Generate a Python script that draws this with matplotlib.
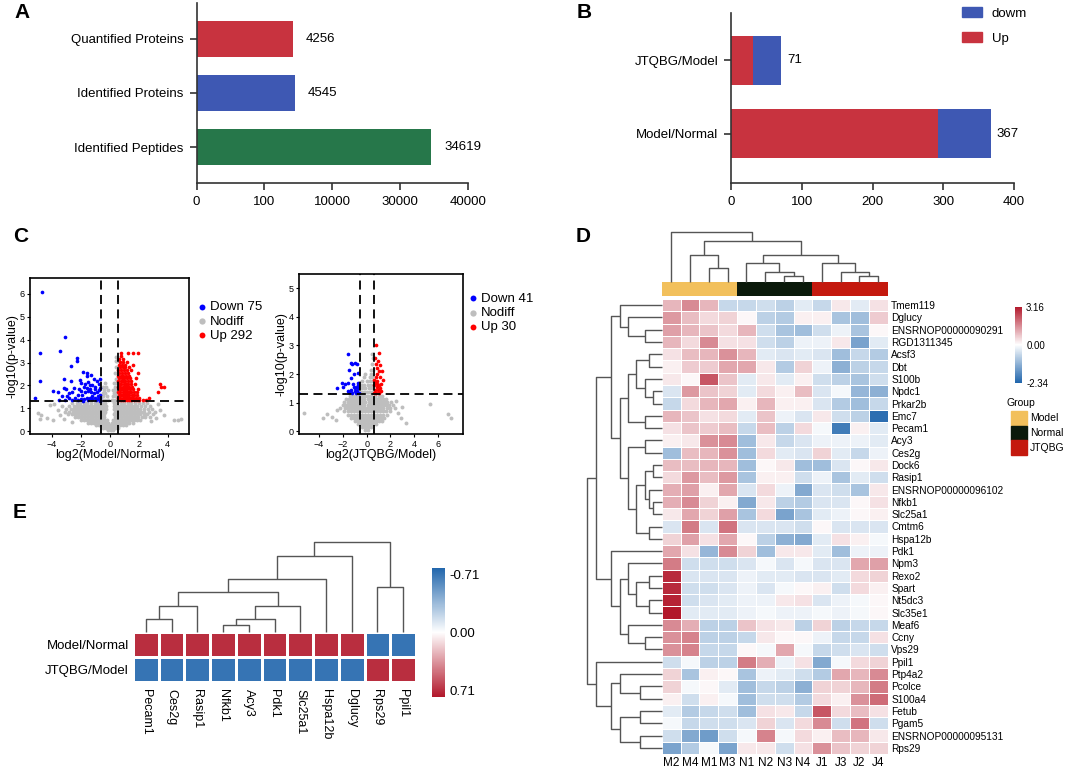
import numpy as np
import matplotlib
matplotlib.use('Agg')
import matplotlib.pyplot as plt
from matplotlib.colors import LinearSegmentedColormap, ListedColormap, TwoSlopeNorm, Normalize
from matplotlib.cm import ScalarMappable
from matplotlib.patches import Patch, Rectangle

plt.rcParams['font.family'] = ['Liberation Sans', 'DejaVu Sans']

# ---------------- data ----------------
a_labels = ['Quantified Proteins', 'Identified Proteins', 'Identified Peptides']
a_values = [4256, 4545, 34619]
a_colors = ['#C8333F', '#3E58B3', '#26774A']
a_ticks = [0, 100, 10000, 30000, 40000]

b_labels = ['JTQBG/Model', 'Model/Normal']
b_up = [30, 292]
b_down = [41, 75]
b_ticks = [0, 100, 200, 300, 400]

# volcano 1: log2(Model/Normal)
c1_gray_rows = {
    0.04: [-0.15, 0.05, 0.2],
    0.14: [-0.45, -0.25, -0.05, 0.15, 0.35, 0.55],
    0.26: [-0.95, -0.75, -0.55, -0.35, -0.15, 0.1, 0.3, 0.5, 0.7, 0.9, 1.15],
    0.38: [-1.5, -1.3, -1.1, -0.9, -0.7, -0.5, -0.3, -0.1, 0.15, 0.35, 0.55, 0.75, 0.95, 1.15, 1.35, 1.6],
    0.5: [-2.0, -1.8, -1.6, -1.4, -1.2, -1.0, -0.8, -0.6, -0.4, -0.2, 0.25, 0.45, 0.65, 0.85, 1.05,
          1.25, 1.45, 1.65, 1.85, 2.1],
    0.62: [-2.4, -2.2, -2.0, -1.8, -1.6, -1.4, -1.2, -1.0, -0.8, -0.6, -0.4, 0.35, 0.55, 0.75, 0.95,
           1.15, 1.35, 1.55, 1.75, 1.95, 2.2, 2.45, 2.8],
    0.74: [-2.9, -2.6, -2.4, -2.2, -2.0, -1.8, -1.6, -1.4, -1.2, -1.0, -0.8, -0.6, -0.4, 0.3, 0.5,
           0.7, 0.9, 1.1, 1.3, 1.5, 1.7, 1.9, 2.1, 2.35, 2.6, 3.0],
    0.86: [-3.1, -2.8, -2.55, -2.35, -2.15, -1.95, -1.75, -1.55, -1.35, -1.15, -0.95, -0.75, -0.55,
           -0.35, 0.35, 0.55, 0.75, 0.95, 1.15, 1.35, 1.55, 1.75, 1.95, 2.15, 2.4, 2.7, 3.1],
    0.98: [-3.0, -2.7, -2.45, -2.25, -2.05, -1.85, -1.65, -1.45, -1.25, -1.05, -0.85, -0.65, -0.45,
           -0.25, 0.3, 0.5, 0.7, 0.9, 1.1, 1.3, 1.5, 1.7, 1.9, 2.1, 2.35, 2.65, 2.95],
    1.1: [-2.8, -2.5, -2.25, -2.05, -1.85, -1.65, -1.45, -1.25, -1.05, -0.85, -0.65, -0.45, -0.25,
          0.3, 0.5, 0.7, 0.9, 1.1, 1.3, 1.5, 1.7, 1.9, 2.15, 2.45, 2.8],
    1.22: [-2.6, -2.3, -2.05, -1.8, -1.55, -1.3, -1.05, -0.8, -0.55, -0.35, 0.3, 0.5, 0.75, 1.0,
           1.25, 1.5, 1.75, 2.0, 2.3, 2.6],
    1.38: [-0.5, -0.3, -0.1, 0.15, 0.35, 0.5],
    1.52: [-0.45, -0.2, 0.2, 0.4],
    1.66: [-0.5, -0.3, 0.3, 0.5],
    1.8: [-0.4, -0.15, 0.25, 0.45],
    1.95: [-0.5, -0.25, 0.35, 0.5],
    2.1: [-0.35, 0.3, 0.45],
    2.3: [0.4, 0.5],
    2.55: [0.35, 0.5],
    2.8: [0.45],
    3.05: [0.4, 0.5],
    3.25: [0.45],
}
c1_gray_extra = [(-5.0, 0.8), (-4.75, 0.72), (-4.85, 0.55), (-4.35, 0.6), (-3.95, 0.5), (-3.6, 0.95),
                 (-3.85, 1.2), (-4.15, 1.15), (-3.45, 0.72), (-3.3, 1.1), (3.45, 0.95), (3.3, 1.2),
                 (3.75, 0.72), (4.45, 0.5), (4.75, 0.48), (4.95, 0.55), (3.2, 0.6), (2.85, 0.45),
                 (-2.6, 0.4), (-3.2, 0.55)]
c1_down = [(-4.7, 6.1), (-3.1, 4.1), (-4.8, 3.4), (-3.45, 3.5), (-4.8, 2.2), (-5.15, 1.45), (-3.9, 1.75),
           (-3.6, 1.7), (-3.2, 1.9), (-3.0, 1.85), (-3.3, 1.55), (-2.95, 1.55), (-3.2, 2.3), (-2.7, 2.85),
           (-2.3, 3.05), (-2.3, 3.2), (-2.7, 2.2), (-2.5, 1.9), (-2.6, 1.7), (-2.8, 1.45), (-2.4, 1.45),
           (-2.2, 1.6), (-2.0, 1.75), (-1.85, 2.6), (-1.6, 2.4), (-1.5, 2.15), (-1.3, 2.45), (-1.1, 2.3),
           (-0.9, 2.2), (-0.75, 2.05), (-0.65, 1.9), (-1.0, 1.95), (-1.2, 2.0), (-1.4, 2.0), (-1.6, 1.9),
           (-1.8, 1.95), (-2.0, 2.1), (-1.9, 1.6), (-1.7, 1.7), (-1.5, 1.75), (-1.3, 1.7), (-1.1, 1.65),
           (-0.9, 1.7), (-0.7, 1.6), (-0.65, 1.45), (-0.8, 1.4), (-1.0, 1.45), (-1.2, 1.4), (-1.4, 1.45),
           (-1.6, 1.45), (-1.8, 1.4), (-2.0, 1.4), (-2.2, 1.35), (-2.6, 1.35), (-3.5, 1.35), (-3.1, 1.38),
           (-1.5, 1.35), (-0.95, 1.35), (-0.7, 1.33), (-1.25, 1.55), (-0.85, 1.55), (-1.7, 2.05),
           (-1.35, 1.85), (-1.05, 1.85), (-0.75, 1.8), (-2.15, 1.85), (-2.8, 1.65), (-0.7, 2.3),
           (-1.55, 2.55), (-2.05, 2.25), (-1.85, 1.32)]
c1_up_rows = {
    1.35: [0.62, 0.78, 0.92, 1.06, 1.2, 1.35, 1.5, 1.66, 1.85, 2.05, 2.28, 2.5],
    1.47: [0.6, 0.74, 0.88, 1.02, 1.16, 1.3, 1.45, 1.62, 1.8, 2.0, 2.7],
    1.59: [0.64, 0.78, 0.92, 1.06, 1.2, 1.36, 1.52, 1.7, 1.9],
    1.71: [0.6, 0.74, 0.88, 1.02, 1.16, 1.3, 1.46, 1.64, 1.85, 3.3],
    1.83: [0.64, 0.78, 0.92, 1.06, 1.22, 1.4, 1.6, 1.95],
    1.95: [0.6, 0.74, 0.88, 1.02, 1.18, 1.34, 1.55, 3.55, 3.75],
    2.07: [0.64, 0.8, 0.95, 1.1, 1.28, 1.48, 1.75, 3.45],
    2.19: [0.6, 0.76, 0.92, 1.08, 1.26, 1.5],
    2.31: [0.66, 0.82, 0.98, 1.16, 1.4, 1.8],
    2.43: [0.6, 0.76, 0.94, 1.12, 1.32],
    2.55: [0.66, 0.84, 1.02, 1.24, 1.95],
    2.67: [0.6, 0.8, 0.98, 1.2, 1.45],
    2.79: [0.68, 0.88, 1.08, 1.3],
    2.91: [0.62, 0.82, 1.02, 1.6],
    3.03: [0.7, 0.92, 1.2],
    3.15: [0.65, 0.88],
    3.27: [0.75],
    3.4: [0.8, 1.25, 1.6, 1.95],
}

# volcano 2: log2(JTQBG/Model)
c2_gray_rows = {
    0.04: [-0.1, 0.1],
    0.14: [-0.35, -0.1, 0.15, 0.4],
    0.25: [-0.7, -0.45, -0.2, 0.05, 0.3, 0.55, 0.8],
    0.36: [-1.0, -0.75, -0.5, -0.25, 0.0, 0.25, 0.5, 0.75, 1.0, 1.25],
    0.47: [-1.3, -1.05, -0.8, -0.55, -0.3, -0.05, 0.2, 0.45, 0.7, 0.95, 1.2, 1.45],
    0.58: [-1.6, -1.35, -1.1, -0.85, -0.6, -0.35, -0.1, 0.15, 0.4, 0.65, 0.9, 1.15, 1.4, 1.7],
    0.69: [-1.9, -1.6, -1.35, -1.1, -0.85, -0.6, -0.35, -0.1, 0.15, 0.4, 0.65, 0.9, 1.15, 1.4, 1.65, 2.0],
    0.8: [-2.2, -1.85, -1.6, -1.35, -1.1, -0.85, -0.6, -0.35, -0.1, 0.15, 0.4, 0.65, 0.9, 1.15, 1.4,
          1.7, 2.0, 2.4],
    0.91: [-2.0, -1.7, -1.45, -1.2, -0.95, -0.7, -0.45, -0.2, 0.1, 0.35, 0.6, 0.85, 1.1, 1.35, 1.6,
           1.9, 2.2],
    1.02: [-1.9, -1.6, -1.35, -1.1, -0.85, -0.6, -0.35, -0.1, 0.2, 0.45, 0.7, 0.95, 1.2, 1.45, 1.75, 2.05],
    1.13: [-1.7, -1.45, -1.2, -0.95, -0.7, -0.45, -0.2, 0.1, 0.35, 0.6, 0.85, 1.1, 1.35, 1.6],
    1.24: [-1.4, -1.15, -0.9, -0.65, -0.4, -0.15, 0.15, 0.4, 0.7, 1.0, 1.3],
    1.38: [-0.5, -0.25, 0.0, 0.25, 0.5],
    1.5: [-0.4, -0.1, 0.2, 0.45],
    1.62: [-0.5, -0.2, 0.15, 0.4],
    1.75: [-0.35, 0.0, 0.3, 0.5],
    1.88: [-0.25, 0.25, 0.45],
    2.0: [-0.1, 0.35],
    2.15: [0.4, 0.5],
    2.35: [0.45],
    2.55: [0.5],
    2.7: [0.45],
}
c2_gray_extra = [(-5.3, 0.65), (-3.7, 0.45), (-3.3, 0.6), (-2.9, 0.5), (-2.55, 0.38), (-2.5, 0.75),
                 (2.9, 0.45), (2.6, 0.65), (3.0, 0.85), (2.5, 1.05), (5.3, 0.95), (6.8, 0.6),
                 (7.1, 0.45), (3.3, 0.3)]
c2_down = [(-1.55, 2.7), (-1.3, 2.4), (-1.2, 2.35), (-0.95, 2.4), (-0.8, 2.35), (-1.5, 2.15), (-1.05, 2.0),
           (-0.7, 2.05), (-1.3, 1.85), (-1.6, 1.7), (-1.85, 1.65), (-2.1, 1.7), (-2.5, 1.5), (-1.95, 1.55),
           (-1.15, 1.65), (-0.75, 1.7), (-0.7, 1.6), (-0.95, 1.5), (-1.35, 1.45), (-1.5, 1.38),
           (-1.25, 1.35), (-1.0, 1.4), (-0.8, 1.42), (-0.68, 1.35), (-0.9, 1.35), (-1.1, 1.55),
           (-0.7, 1.5), (-1.6, 1.4), (-0.85, 1.55)]
c2_up = [(0.8, 3.0), (1.0, 2.75), (0.7, 2.55), (0.9, 2.2), (1.0, 2.1), (1.25, 2.1), (0.85, 2.0), (0.75, 1.9),
         (1.1, 1.9), (1.35, 1.8), (0.65, 1.8), (0.9, 1.75), (1.2, 1.65), (0.7, 1.7), (1.0, 1.6), (0.65, 1.6),
         (0.85, 1.55), (1.1, 1.5), (0.7, 1.45), (0.95, 1.45), (1.2, 1.4), (0.8, 1.35), (1.05, 1.35),
         (0.65, 1.35), (0.9, 1.65), (0.75, 2.35), (1.15, 2.3), (0.95, 2.45)]

# heatmap D
d_cols = ['M2', 'M4', 'M1', 'M3', 'N1', 'N2', 'N3', 'N4', 'J1', 'J3', 'J2', 'J4']
d_groups = [0, 0, 0, 0, 1, 1, 1, 1, 2, 2, 2, 2]
group_names = ['Model', 'Normal', 'JTQBG']
group_colors = ['#F2C05C', '#0B1A0B', '#C4190E']
d_rows = ['Tmem119', 'Dglucy', 'ENSRNOP00000090291', 'RGD1311345', 'Acsf3', 'Dbt', 'S100b', 'Npdc1',
          'Prkar2b', 'Emc7', 'Pecam1', 'Acy3', 'Ces2g', 'Dock6', 'Rasip1', 'ENSRNOP00000096102', 'Nfkb1',
          'Slc25a1', 'Cmtm6', 'Hspa12b', 'Pdk1', 'Npm3', 'Rexo2', 'Spart', 'Nt5dc3', 'Slc35e1', 'Meaf6',
          'Ccny', 'Vps29', 'Ppil1', 'Ptp4a2', 'Pcolce', 'S100a4', 'Fetub', 'Pgam5', 'ENSRNOP00000095131',
          'Rps29']
d_values = [
    [1.0, 1.6, 1.0, -0.6, -0.6, -0.5, -0.7, -0.3, -0.6, 0.3, -0.3, 0.4],
    [1.4, 0.9, 0.5, 0.6, 0.1, -0.7, -0.8, 0.2, 0.2, -0.9, -1.0, 0.7],
    [1.3, 1.0, 0.8, 0.5, 1.0, -0.5, -0.9, -1.0, -0.5, -0.2, -0.9, 0.1],
    [1.0, 0.5, 1.6, 0.4, 0.4, -0.5, -0.7, -0.2, -0.2, 0.3, -1.4, -0.3],
    [0.4, 0.9, 1.0, 1.5, 1.0, -0.3, -0.4, -0.3, -0.4, -1.0, -0.6, -0.8],
    [0.2, 0.7, 0.7, 1.2, 1.2, 0.3, -0.8, 0.6, -0.2, -1.2, -0.7, -0.6],
    [0.3, 0.1, 2.3, 0.8, -0.3, 0.3, -0.3, 0.2, -0.5, -0.7, -0.9, -0.5],
    [-0.4, 1.4, 0.8, 0.6, -0.3, 0.5, 0.2, 0.9, -0.4, -0.1, -1.1, -1.2],
    [-0.6, 0.5, 1.0, 1.2, 0.2, 1.0, 0.2, 0.2, -0.4, -0.8, -1.0, -0.6],
    [1.0, 0.8, 0.4, 0.5, -0.3, 0.8, -0.2, -0.4, 0.3, -0.5, -0.7, -2.2],
    [0.4, 0.8, 0.7, 0.9, -0.6, 0.9, -0.7, 0.5, -0.1, -2.0, 0.2, -0.3],
    [0.2, 0.3, 1.5, 1.6, -1.0, 0.3, -0.6, -0.4, -0.2, -0.2, -0.2, -0.3],
    [-1.0, 0.9, 1.0, 1.5, -1.0, 0.5, -0.3, -0.4, 0.6, -0.3, -0.6, -0.2],
    [0.9, 0.9, 1.0, 1.0, -1.0, 0.1, 0.3, -1.0, -1.0, -0.4, 0.1, 0.3],
    [0.5, 1.4, 0.9, 1.4, -0.9, 0.2, 0.2, -0.5, -0.2, -0.9, -0.3, -0.5],
    [1.1, 1.3, 0.2, 1.2, -0.4, 0.5, -0.2, -1.3, -0.4, -0.5, -0.9, 0.3],
    [1.1, 1.6, 0.6, 0.2, -1.3, 0.3, -0.7, -0.8, -0.4, -0.4, 0.1, 0.4],
    [0.3, 1.2, 0.6, 1.3, -0.9, 0.5, -1.4, -0.9, -0.3, -0.2, 0.1, 0.2],
    [-0.4, 1.8, -0.4, 1.9, -0.4, -0.4, -0.4, -0.5, 0.1, -0.4, -0.4, -0.4],
    [0.6, 1.3, 0.4, 1.2, 0.1, -0.7, -1.2, -1.3, -0.3, 0.4, 0.2, -0.1],
    [1.2, 0.4, -1.1, 1.6, 0.6, -1.0, 0.3, 0.3, -0.3, -1.0, -0.2, -0.2],
    [1.8, -0.5, -0.5, -0.5, -0.4, -0.1, -0.4, -0.1, -0.4, -0.4, 1.2, 1.3],
    [2.9, -0.4, -0.4, -0.4, -0.2, -0.3, -0.3, -0.4, -0.4, -0.3, 0.5, 0.6],
    [2.9, -0.5, -0.5, -0.4, -0.2, -0.4, -0.1, 0.1, 0.2, -0.5, 0.5, 0.2],
    [3.0, -0.5, -0.4, -0.3, -0.2, -0.2, 0.3, 0.4, -0.4, -0.2, -0.1, 0.1],
    [3.16, -0.3, -0.3, -0.3, -0.2, -0.1, -0.2, -0.2, -0.1, -0.2, -0.1, 0.1],
    [1.6, 1.1, -0.7, -0.7, 0.8, 0.4, 0.3, -0.7, 0.6, -0.7, -0.6, -0.6],
    [1.5, 1.7, -0.7, -0.7, -0.6, 0.3, 0.1, 0.1, -0.2, -0.6, -0.6, 0.4],
    [1.5, 1.7, -0.6, -0.6, 0.1, -0.1, 1.2, -0.1, -0.6, -0.5, -0.4, -0.5],
    [-0.5, -0.1, -0.7, -0.7, 1.8, 1.1, -0.2, 0.4, -1.3, -0.1, 0.5, 0.6],
    [0.6, -0.9, 0.2, 0.1, -0.9, -0.2, -0.3, -0.5, -0.8, 1.2, 1.0, 1.6],
    [0.6, -0.1, 0.1, -0.3, -1.0, -0.6, -0.7, -1.2, 0.6, 0.6, 1.0, 1.8],
    [0.2, -0.5, 0.2, -0.1, -1.0, -0.5, -0.5, -0.8, 0.5, 0.2, 1.5, 2.0],
    [-0.3, -0.8, -0.6, -0.5, -1.0, 0.4, 0.3, -0.6, 2.3, 0.5, 0.9, 0.4],
    [-0.1, -0.6, -0.5, -0.5, -0.4, 0.6, -0.4, 0.5, 1.6, -0.5, 1.9, -0.5],
    [-0.5, -1.3, -1.5, -0.5, -0.1, 1.7, -0.1, 0.5, 0.2, 0.9, 1.0, 0.3],
    [-1.4, -0.8, -0.1, -1.4, 0.3, 0.3, -0.5, 0.4, 1.5, 0.8, 0.6, 0.6],
]
# trees: (left, right, height), leaves are row / column indices
d_row_tree = (
    (((0, (1, (2, 3, 1.7), 3.37), 4.2),
      ((((4, 5, 1.3), (6, (7, 8, 0.87), 1.7), 2.53), (9, 10, 1.7), 3.37),
       ((11, 12, 1.7), (((13, 14, 0.87), (15, (16, 17, 0.87), 1.3), 1.7), (18, 19, 1.3), 2.53), 3.37),
       4.2), 5.03),
     (20, ((21, ((22, 23, 1.3), (24, 25, 1.3), 2.53), 3.37), (26, (27, 28, 1.7), 3.37), 4.2), 5.03),
     6.53),
    (29, ((30, (31, 32, 2.13), 4.2), ((33, 34, 2.13), (35, 36, 2.13), 4.2), 5.03), 6.53),
    7.43)
d_col_tree = (0, ((1, (2, 3, 1.38), 2.72),
                  ((4, (5, (6, 7, 0.6), 0.98), 1.88), (8, (9, (10, 11, 0.6), 0.98), 1.88), 2.72), 4.15), 5.0)

# heatmap E
e_rows = ['Model/Normal', 'JTQBG/Model']
e_cols = ['Pecam1', 'Ces2g', 'Rasip1', 'Nfkb1', 'Acy3', 'Pdk1', 'Slc25a1', 'Hspa12b', 'Dglucy', 'Rps29', 'Ppil1']
e_values = [
    [0.71, 0.71, 0.71, 0.71, 0.71, 0.71, 0.71, 0.71, 0.71, -0.71, -0.71],
    [-0.71, -0.71, -0.71, -0.71, -0.71, -0.71, -0.71, -0.71, -0.71, 0.71, 0.71],
]
e_col_tree = ((((((0, 1, 1.27), 2, 2.6), (((3, 4, 0.67), 5, 1.27), 6, 2.6), 3.94), 7, 5.24), 8, 7.57),
              (9, 10, 4.5), 9.0)

# ---------------- figure ----------------
W, H = 1065, 768
fig = plt.figure(figsize=(W / 100, H / 100), dpi=100)
heat_cmap = LinearSegmentedColormap.from_list('bwr_ph', ['#2166AC', '#FFFFFF', '#B2182B'])
DGRAY = '#333333'


def px_axes(x0, y0, x1, y1):
    return fig.add_axes([x0 / W, 1 - y1 / H, (x1 - x0) / W, (y1 - y0) / H])


def letter(x, y, s):
    fig.text(x / W, 1 - y / H, s, fontsize=15, fontweight='bold', va='center', ha='left')


def bar_style(ax):
    for s in ['top', 'right']:
        ax.spines[s].set_visible(False)
    for s in ['left', 'bottom']:
        ax.spines[s].set_linewidth(1.2)
        ax.spines[s].set_color(DGRAY)
    ax.tick_params(length=5, width=1.2, color=DGRAY, labelsize=9.5, pad=4.5)


def draw_tree(ax, tree, orient):
    def walk(node):
        if isinstance(node, int):
            return node + 0.5, 0.0
        left, right, h = node
        p1, h1 = walk(left)
        p2, h2 = walk(right)
        ps, hs = [p1, p1, p2, p2], [h1, h, h, h2]
        if orient == 'top':
            ax.plot(ps, hs, color='#555555', lw=1.0, clip_on=False, solid_capstyle='butt')
        else:
            ax.plot(hs, ps, color='#555555', lw=1.0, clip_on=False, solid_capstyle='butt')
        return (p1 + p2) / 2, h
    walk(tree)
    ax.axis('off')


def rows_to_xy(rows, extra=()):
    pts = [(x, y) for y, xs in rows.items() for x in xs] + list(extra)
    return np.array(pts)


# ---- A ----
letter(14, 13, 'A')
ax = px_axes(196.6, 3.3, 468, 182.7)
fwd = lambda v: np.interp(v, a_ticks, np.arange(len(a_ticks)))
inv = lambda u: np.interp(u, np.arange(len(a_ticks)), a_ticks)
ax.set_xscale('function', functions=(fwd, inv))
ax.barh(range(len(a_values)), a_values, height=0.664, color=a_colors)
ax.set_xlim(0, 40000)
ax.set_ylim(2.659, -0.653)
ax.set_xticks(a_ticks, [str(t) for t in a_ticks])
ax.set_yticks(range(len(a_labels)), a_labels)
ax.minorticks_off()
for i, v in enumerate(a_values):
    ax.annotate(str(v), (v, i), xytext=(9, 0), textcoords='offset points', va='center', fontsize=9.5)
bar_style(ax)

# ---- B ----
letter(577, 13, 'B')
ax = px_axes(731.3, 12.7, 1014, 182.7)
yb = np.arange(len(b_labels))
ax.barh(yb, b_up, height=0.668, color='#C8333F', label='Up')
ax.barh(yb, b_down, left=b_up, height=0.668, color='#3E58B3', label='dowm')
ax.set_xlim(0, 400)
ax.set_ylim(1.667, -0.652)
ax.set_xticks(b_ticks)
ax.set_yticks(yb, b_labels)
for i in range(len(b_labels)):
    tot = b_up[i] + b_down[i]
    ax.annotate(str(tot), (tot, i), xytext=(4.5, 0), textcoords='offset points', va='center', fontsize=9.5)
bar_style(ax)
fig.legend(handles=[Patch(color='#3E58B3', label='dowm'), Patch(color='#C8333F', label='Up')],
           loc='upper left', bbox_to_anchor=(962 / W, 1 - 7 / H), frameon=False, fontsize=9.5,
           handlelength=1.5, handleheight=0.8, handletextpad=0.75, labelspacing=0.95, borderpad=0,
           borderaxespad=0)

# ---- C ----
letter(13, 237, 'C')


def volcano(rect, gray, down, up, xlim, ylim, xticks, yticks, xlabel, labels, leg_xy):
    ax = px_axes(*rect)
    g = np.asarray(gray)
    d = np.asarray(down)
    u = np.asarray(up)
    h1 = ax.scatter(d[:, 0], d[:, 1], s=7, color='#0000FF', lw=0, label=labels[0], zorder=3)
    h2 = ax.scatter(g[:, 0], g[:, 1], s=8, color='#BEBEBE', lw=0, label=labels[1], zorder=2)
    h3 = ax.scatter(u[:, 0], u[:, 1], s=7, color='#FF0000', lw=0, label=labels[2], zorder=3)
    for xv in (-0.585, 0.585):
        ax.axvline(xv, color='black', lw=1.3, ls=(0, (5, 3)), zorder=4)
    ax.axhline(1.301, color='black', lw=1.3, ls=(0, (5, 3)), zorder=4)
    ax.set_xlim(*xlim)
    ax.set_ylim(*ylim)
    ax.set_xticks(xticks)
    ax.set_yticks(yticks)
    ax.tick_params(length=2.5, width=0.8, labelsize=6.5, pad=1.5)
    for s in ax.spines.values():
        s.set_linewidth(1.2)
    ax.set_ylabel('-log10(p-value)', fontsize=9, labelpad=1)
    ax.set_xlabel(xlabel, fontsize=9, labelpad=0)
    fig.legend(handles=[h1, h2, h3], loc='upper left', bbox_to_anchor=(leg_xy[0] / W, 1 - leg_xy[1] / H),
               frameon=False, fontsize=9.5, markerscale=1.6, handlelength=0.5, handletextpad=0.35,
               labelspacing=0.16, borderpad=0, borderaxespad=0)
    return ax


volcano((30.3, 278.3, 189.3, 434), rows_to_xy(c1_gray_rows, c1_gray_extra), c1_down,
        rows_to_xy(c1_up_rows), (-5.5, 5.5), (-0.12, 6.68), [-4, -2, 0, 2, 4], range(7),
        'log2(Model/Normal)', ['Down 75', 'Nodiff', 'Up 292'], (199, 301))
volcano((299.3, 274, 463, 434), rows_to_xy(c2_gray_rows, c2_gray_extra), c2_down, c2_up,
        (-5.66, 8.1), (-0.1, 5.5), [-4, -2, 0, 2, 4, 6], range(6),
        'log2(JTQBG/Model)', ['Down 41', 'Nodiff', 'Up 30'], (470, 292.5))

# ---- D ----
letter(576, 236, 'D')
nr, nc = len(d_rows), len(d_cols)
x0, x1, y0, y1 = 661.7, 887.7, 299, 754
d_norm = TwoSlopeNorm(vmin=-2.34, vcenter=0, vmax=3.16)
ax = px_axes(x0, y0, x1, y1)
ax.pcolormesh(np.array(d_values), cmap=heat_cmap, norm=d_norm, edgecolors='white', linewidth=0.6)
ax.set_xlim(0, nc)
ax.set_ylim(nr, 0)
ax.set_xticks(np.arange(nc) + 0.5, d_cols, fontsize=8.5)
ax.yaxis.tick_right()
ax.set_yticks(np.arange(nr) + 0.5, d_rows, fontsize=7.3)
ax.tick_params(length=0, pad=2.5)
for s in ax.spines.values():
    s.set_visible(False)

axg = px_axes(x0, 282.3, x1, 296)
axg.pcolormesh(np.array([d_groups]), cmap=ListedColormap(group_colors), vmin=-0.5, vmax=2.5)
axg.set_xlim(0, nc)
axg.axis('off')

axc = px_axes(x0, 231, x1, 282)
draw_tree(axc, d_col_tree, 'top')
axc.set_xlim(0, nc)
axc.set_ylim(0, 5.13)

axr = px_axes(586, y0, x0, y1)
draw_tree(axr, d_row_tree, 'left')
axr.set_xlim(7.57, 0)
axr.set_ylim(nr, 0)

cax = px_axes(1015, 306.7, 1022, 382.7)
cb = fig.colorbar(ScalarMappable(norm=d_norm, cmap=heat_cmap), cax=cax, ticks=[-2.34, 0, 3.16])
cb.ax.set_yticklabels(['-2.34', '0.00', '3.16'])
cb.ax.tick_params(length=0, labelsize=7, pad=3)
cb.outline.set_visible(False)

fig.text(1006.7 / W, 1 - 402.7 / H, 'Group', fontsize=7.5, va='center')
for i, (name, col) in enumerate(zip(group_names, group_colors)):
    ytop = 411 + i * 14.7
    fig.add_artist(Rectangle((1011 / W, 1 - (ytop + 14.7) / H), 15.7 / W, 14.7 / H,
                             transform=fig.transFigure, color=col))
    fig.text(1030 / W, 1 - (ytop + 7.3) / H, name, fontsize=7.5, va='center')

# ---- E ----
letter(13, 513, 'E')
ex0, ex1, ey0, ey1 = 133, 416, 631.7, 682.3
e_norm = Normalize(vmin=-0.79, vmax=0.79)
ax = px_axes(ex0, ey0, ex1, ey1)
ax.pcolormesh(np.array(e_values), cmap=heat_cmap, norm=e_norm, edgecolors='white', linewidth=0.9)
ax.set_xlim(0, len(e_cols))
ax.set_ylim(len(e_rows), 0)
ax.set_yticks(np.arange(len(e_rows)) + 0.5, e_rows, fontsize=9.5)
ax.set_xticks(np.arange(len(e_cols)) + 0.5, e_cols, fontsize=9, rotation=-90)
ax.tick_params(length=0, pad=3)
ax.tick_params(axis='x', pad=4.5)
for s in ax.spines.values():
    s.set_visible(False)

axe = px_axes(ex0, 540, ex1, ey0)
draw_tree(axe, e_col_tree, 'top')
axe.set_xlim(0, len(e_cols))
axe.set_ylim(0, 9.17)

cax = px_axes(432, 567.7, 445, 696.7)
cb = fig.colorbar(ScalarMappable(norm=e_norm, cmap=heat_cmap), cax=cax, ticks=[-0.71, 0, 0.71])
cb.ax.set_yticklabels(['-0.71', '0.00', '0.71'])
cb.ax.invert_yaxis()
cb.ax.tick_params(length=0, labelsize=9.5, pad=3)
cb.outline.set_visible(False)

fig.savefig('out.png', dpi=100)
